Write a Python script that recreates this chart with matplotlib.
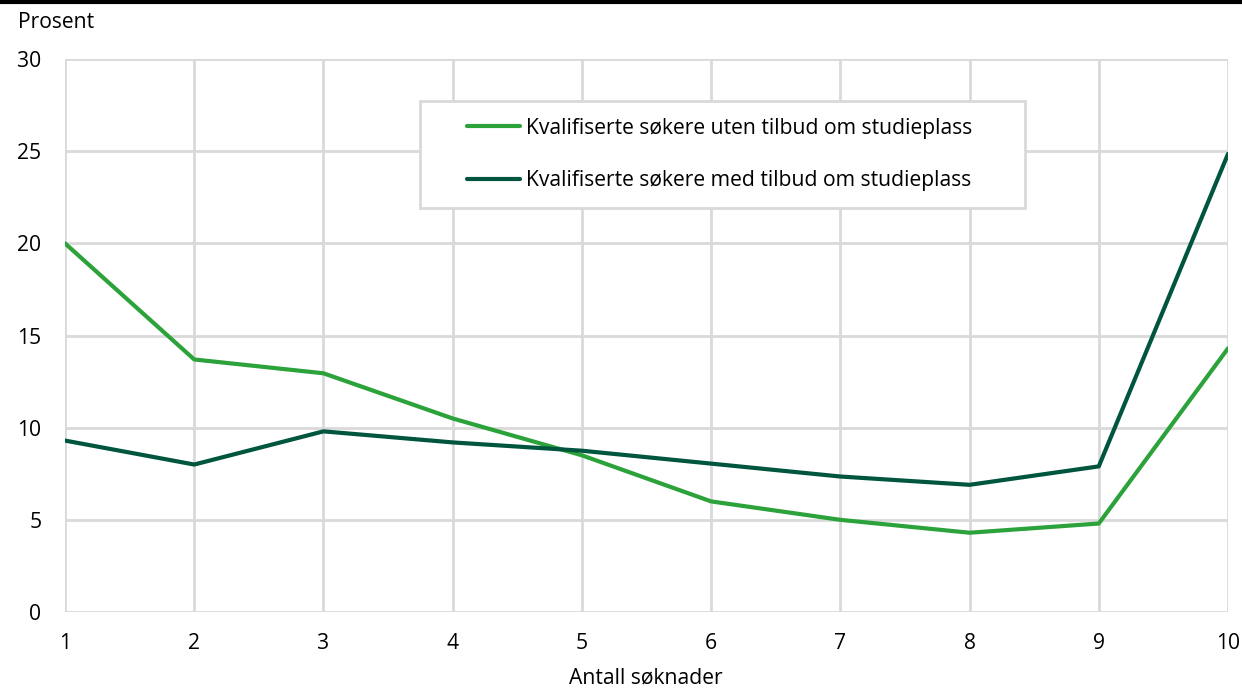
import matplotlib.pyplot as plt
from matplotlib.lines import Line2D
from matplotlib.patches import Rectangle

plt.rcParams['font.family'] = ['Open Sans', 'DejaVu Sans']

soknader = [1, 2, 3, 4, 5, 6, 7, 8, 9, 10]
uten_tilbud = [20.0, 13.7, 12.95, 10.5, 8.5, 6.0, 5.0, 4.3, 4.8, 14.3]
med_tilbud = [9.3, 8.0, 9.8, 9.2, 8.75, 8.05, 7.35, 6.9, 7.9, 24.85]
yticks = [0, 5, 10, 15, 20, 25, 30]

lys_gronn = '#2ca23a'
mork_gronn = '#00553f'
grid_farge = '#d9d9d9'
fs = 15.2

W, H = 1242, 688
fig = plt.figure(figsize=(W / 100, H / 100), dpi=100)
ax = fig.add_axes([65 / W, 1 - 612 / H, (1228 - 65) / W, (612 - 59) / H])

ax.plot(soknader, uten_tilbud, color=lys_gronn, linewidth=3, solid_capstyle='round',
        solid_joinstyle='round', label='Kvalifiserte søkere uten tilbud om studieplass', zorder=3)
ax.plot(soknader, med_tilbud, color=mork_gronn, linewidth=3, solid_capstyle='round',
        solid_joinstyle='round', label='Kvalifiserte søkere med tilbud om studieplass', zorder=3)

ax.set_xlim(1, 10)
ax.set_ylim(0, 30)
ax.set_xticks(soknader)
ax.set_yticks(yticks)
ax.grid(True, color=grid_farge, linewidth=2)
ax.set_axisbelow(True)
for s in ax.spines.values():
    s.set_visible(False)
ax.tick_params(length=0, labelsize=fs, colors='#000000')
ax.tick_params(axis='x', pad=15)
ax.tick_params(axis='y', pad=17)

# aksetitler
fig.text(646 / W, 1 - 678 / H, 'Antall søknader', fontsize=fs, va='center', ha='center')
fig.text(18 / W, 1 - 23 / H, 'Prosent', fontsize=fs, va='center', ha='left')

# svart linje øverst
fig.add_artist(Line2D([0, 1], [1 - 2 / H, 1 - 2 / H], color='black', linewidth=3))

# legend-ramme
fig.add_artist(Rectangle((420 / W, 1 - 208 / H), (1025 - 420) / W, (208 - 101) / H,
                         transform=fig.transFigure, facecolor='white',
                         edgecolor=grid_farge, linewidth=2, zorder=4))

leg = fig.legend(*ax.get_legend_handles_labels(), loc='center left',
                 bbox_to_anchor=(467 / W, 1 - 154.5 / H),
                 fontsize=fs, frameon=False, handlelength=2.5,
                 handletextpad=0.3, labelspacing=1.5, borderpad=0, borderaxespad=0)
leg.set_zorder(5)

fig.savefig('out.png', dpi=100)
